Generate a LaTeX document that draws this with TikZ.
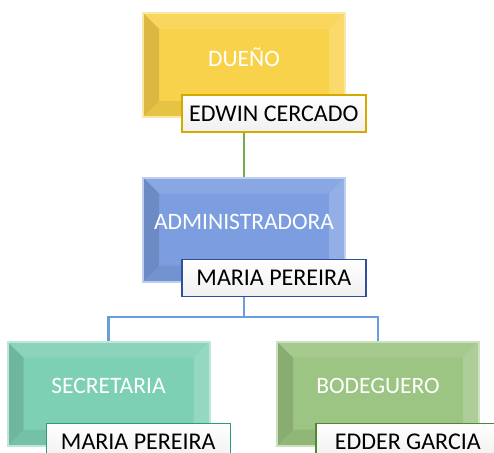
\documentclass[tikz,border=0pt]{standalone}
\usepackage{fontspec}
\setmainfont{Carlito}
\usetikzlibrary{positioning}
\definecolor{dueno}{HTML}{F9D24B}
\definecolor{admin}{HTML}{7C9EE0}
\definecolor{secre}{HTML}{7ED0B4}
\definecolor{bode}{HTML}{9CC482}
\definecolor{duenoline}{HTML}{D4A900}
\definecolor{adminline}{HTML}{2F4E9E}
\definecolor{secreline}{HTML}{2E9C78}
\definecolor{bodeline}{HTML}{4E8B2E}
\definecolor{linkgreen}{HTML}{72AE4A}
\definecolor{linkblue}{HTML}{6A9DDC}

\begin{document}
\begin{tikzpicture}[x=1pt,y=-1pt,
    cargo/.style={minimum width=202pt, minimum height=104pt, inner sep=0pt,
        fill=#1, draw=#1!50!white, line width=2pt,
        path picture={
            \fill[black,opacity=.12] (path picture bounding box.south west) -- (path picture bounding box.north west)
                -- ([xshift=16pt,yshift=-16pt]path picture bounding box.north west) -- ([xshift=16pt,yshift=16pt]path picture bounding box.south west) -- cycle;
            \fill[black,opacity=.07] (path picture bounding box.south west) -- (path picture bounding box.south east)
                -- ([xshift=-16pt,yshift=16pt]path picture bounding box.south east) -- ([xshift=16pt,yshift=16pt]path picture bounding box.south west) -- cycle;
            \fill[white,opacity=.1] (path picture bounding box.north west) -- (path picture bounding box.north east)
                -- ([xshift=-16pt,yshift=-16pt]path picture bounding box.north east) -- ([xshift=16pt,yshift=-16pt]path picture bounding box.north west) -- cycle;
            \fill[white,opacity=.18] (path picture bounding box.north east) -- (path picture bounding box.south east)
                -- ([xshift=-16pt,yshift=16pt]path picture bounding box.south east) -- ([xshift=-16pt,yshift=-16pt]path picture bounding box.north east) -- cycle;
        }},
    titulo/.style={text=white, font=\fontsize{23.5}{23.5}\selectfont},
    persona/.style={draw=#1, line width=1.6pt, top color=white, bottom color=gray!12,
        minimum width=184pt, minimum height=37pt, inner sep=0pt, anchor=north west,
        font=\fontsize{24}{24}\selectfont}
]
\useasboundingbox (0,0) rectangle (494,452);

\node[cargo=dueno] (dueno) at (244,65) {};
\node[cargo=admin] (admin) at (244,229.5) {};
\node[cargo=secre] (secre) at (108.5,393.5) {};
\node[cargo=bode] (bode) at (378,393.5) {};

\node[titulo] (tdueno) at ([yshift=8pt]dueno.center) {DUEÑO};
\node[titulo] (tadmin) at ([yshift=8pt]admin.center) {ADMINISTRADORA};
\node[titulo] (tsecre) at ([yshift=8pt]secre.center) {SECRETARIA};
\node[titulo] (tbode) at ([yshift=8pt]bode.center) {BODEGUERO};

\node[persona=duenoline] (edwin) at ([xshift=39pt,yshift=24pt]dueno.south west) {EDWIN CERCADO};
\node[persona=adminline] (mariaA) at ([xshift=39pt,yshift=24pt]admin.south west) {MARIA PEREIRA};
\node[persona=secreline] (mariaS) at ([xshift=39pt,yshift=24pt]secre.south west) {MARIA PEREIRA};
\node[persona=bodeline] (edder) at ([xshift=39pt,yshift=24pt]bode.south west) {EDDER GARCIA};

% connectors
\coordinate (split) at (244,317);
\draw[linkgreen, line width=1.8pt] (dueno.south |- edwin.south) -- (admin.north);
\draw[linkblue, line width=2.4pt] (admin.south |- mariaA.south) -- (split) -| (secre.north);
\draw[linkblue, line width=2.4pt] (split) -| (bode.north);
\end{tikzpicture}
\end{document}
